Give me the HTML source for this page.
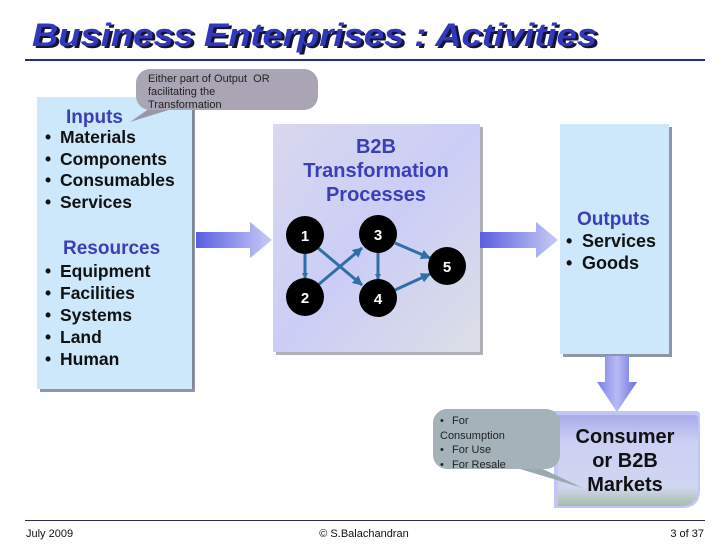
<!DOCTYPE html>
<html><head><meta charset="utf-8"><style>
html,body{margin:0;padding:0;background:#fff;}
svg{display:block;font-family:"Liberation Sans",Arial,sans-serif;}
</style></head><body>
<svg width="728" height="546" viewBox="0 0 728 546" xmlns="http://www.w3.org/2000/svg">
<defs>
<linearGradient id="arr" x1="0" x2="1" y1="0" y2="0">
<stop offset="0" stop-color="#5a5ee0"/><stop offset="1" stop-color="#c8ccf6"/></linearGradient>
<linearGradient id="arrd" x1="0" x2="1" y1="0" y2="0">
<stop offset="0" stop-color="#7a7ee6"/><stop offset="0.5" stop-color="#b8bcf4"/><stop offset="1" stop-color="#6a6ee2"/></linearGradient>
<linearGradient id="b2b" x1="0" y1="0" x2="1" y2="1">
<stop offset="0" stop-color="#d8d8ee"/><stop offset="0.5" stop-color="#cccdf6"/><stop offset="1" stop-color="#dcdfe6"/></linearGradient>
<linearGradient id="cons" x1="0" y1="0" x2="0" y2="1">
<stop offset="0" stop-color="#a8abe8"/><stop offset="0.3" stop-color="#ccd0f4"/><stop offset="0.8" stop-color="#cfd6f0"/><stop offset="1" stop-color="#a8bca8"/></linearGradient>
<marker id="ah" markerWidth="6" markerHeight="6" refX="5" refY="3" orient="auto" markerUnits="userSpaceOnUse"><path d="M0,0 L6,3 L0,6 z" fill="#2f6fa6"/></marker>
<marker id="ah2" markerWidth="10" markerHeight="10" refX="9" refY="5" orient="auto" markerUnits="userSpaceOnUse"><path d="M0,0 L10,5 L0,10 z" fill="#2f6fa6"/></marker>
</defs>

<!-- title -->
<text x="35" y="48" font-size="32" font-weight="bold" font-style="italic" fill="#14143a" textLength="565" lengthAdjust="spacingAndGlyphs">Business Enterprises : Activities</text>
<text x="32" y="46" font-size="32" font-weight="bold" font-style="italic" fill="#3238bc" textLength="565" lengthAdjust="spacingAndGlyphs">Business Enterprises : Activities</text>
<rect x="25" y="59" width="680" height="2" fill="#2a2a80"/>

<!-- inputs box -->
<rect x="40" y="100" width="155" height="292" fill="#8f96a8"/>
<rect x="37" y="97" width="155" height="292" fill="#cde8fb"/>
<rect x="192" y="97" width="2" height="292" fill="#808898"/>
<g font-weight="bold" font-size="17.5">
<text x="66" y="123" fill="#3a3fb8" font-size="19">Inputs</text>
<g fill="#111">
<text x="45" y="143">•</text><text x="60" y="143">Materials</text>
<text x="45" y="165">•</text><text x="60" y="165">Components</text>
<text x="45" y="186">•</text><text x="60" y="186">Consumables</text>
<text x="45" y="208">•</text><text x="60" y="208">Services</text>
</g>
<text x="63" y="254" fill="#3a3fb8" font-size="19">Resources</text>
<g fill="#111">
<text x="45" y="277">•</text><text x="60" y="277">Equipment</text>
<text x="45" y="299">•</text><text x="60" y="299">Facilities</text>
<text x="45" y="321">•</text><text x="60" y="321">Systems</text>
<text x="45" y="343">•</text><text x="60" y="343">Land</text>
<text x="45" y="365">•</text><text x="60" y="365">Human</text>
</g></g>

<!-- callout top -->
<path d="M150,108 L130,122 L175,108 z" fill="#9a98a8"/>
<rect x="136" y="69" width="182" height="41" rx="14" fill="#a9a5b5"/>
<g font-size="11" fill="#222">
<text x="148" y="82">Either part of Output&#160; OR</text>
<text x="148" y="95">facilitating the</text>
<text x="148" y="108">Transformation</text>
</g>

<!-- arrow 1 -->
<path d="M196,232 H250 V222 L272,240 L250,258 V248 H196 z" fill="url(#arr)"/>

<!-- B2B box -->
<rect x="276" y="127" width="207" height="228" fill="#b0b0b8"/>
<rect x="273" y="124" width="207" height="228" fill="url(#b2b)"/>
<g font-weight="bold" font-size="20" fill="#3a3fb8" text-anchor="middle">
<text x="376" y="153">B2B</text>
<text x="376" y="177">Transformation</text>
<text x="376" y="201">Processes</text>
</g>
<g stroke="#2f6fa6" stroke-width="3" fill="none">
<line x1="305" y1="253" x2="305" y2="278" marker-end="url(#ah)"/>
<line x1="378" y1="252" x2="378" y2="279" marker-end="url(#ah)"/>
<line x1="318" y1="248" x2="362" y2="285" marker-end="url(#ah2)"/>
<line x1="318" y1="285" x2="362" y2="248" marker-end="url(#ah2)"/>
<line x1="395" y1="243" x2="430" y2="258" marker-end="url(#ah2)"/>
<line x1="395" y1="290" x2="430" y2="274" marker-end="url(#ah2)"/>
</g>
<g fill="#000"><circle cx="305" cy="235" r="19"/><circle cx="378" cy="234" r="19"/><circle cx="305" cy="297" r="19"/><circle cx="378" cy="298" r="19"/><circle cx="447" cy="266" r="19"/></g>
<g fill="#fff" font-weight="bold" font-size="15" text-anchor="middle">
<text x="305" y="241">1</text><text x="378" y="240">3</text><text x="305" y="303">2</text><text x="378" y="304">4</text><text x="447" y="272">5</text>
</g>

<!-- arrow 2 -->
<path d="M480,232 H536 V222 L558,240 L536,258 V248 H480 z" fill="url(#arr)"/>

<!-- outputs box -->
<rect x="563" y="127" width="109" height="230" fill="#8f96a8"/>
<rect x="560" y="124" width="109" height="230" fill="#cde8fb"/>
<g font-weight="bold" font-size="18">
<text x="577" y="225" fill="#3a3fb8" font-size="19">Outputs</text>
<g fill="#111">
<text x="566" y="247">•</text><text x="582" y="247">Services</text>
<text x="566" y="269">•</text><text x="582" y="269">Goods</text>
</g></g>

<!-- down arrow -->
<path d="M605,356 H629 V382 H637 L617,412 L597,382 H605 z" fill="url(#arrd)"/>

<!-- consumer box -->
<path d="M554,411 H696 Q700,411 700,415 V490 Q700,508 682,508 H554 Z" fill="#9a9ef0" opacity="0.6"/>
<path d="M558,415 H694 Q698,415 698,419 V488 Q698,506 680,506 H558 Z" fill="url(#cons)"/>
<g font-weight="bold" font-size="20" fill="#111" text-anchor="middle">
<text x="625" y="443">Consumer</text>
<text x="625" y="467">or B2B</text>
<text x="625" y="491">Markets</text>
</g>

<!-- callout bottom -->
<path d="M500,463 L583,488 L530,463 z" fill="#9aa8b0"/>
<rect x="433" y="409" width="127" height="60" rx="14" fill="#a4b2ba"/>
<g font-size="11" fill="#222">
<text x="440" y="424">•</text><text x="452" y="424">For</text>
<text x="440" y="439">Consumption</text>
<text x="440" y="453">•</text><text x="452" y="453">For Use</text>
<text x="440" y="468">•</text><text x="452" y="468">For Resale</text>
</g>

<!-- footer -->
<rect x="25" y="520" width="680" height="1" fill="#2a2a60"/>
<g font-size="11" fill="#111">
<text x="26" y="537">July 2009</text>
<text x="364" y="537" text-anchor="middle">© S.Balachandran</text>
<text x="704" y="537" text-anchor="end">3 of 37</text>
</g>
</svg>
</body></html>
